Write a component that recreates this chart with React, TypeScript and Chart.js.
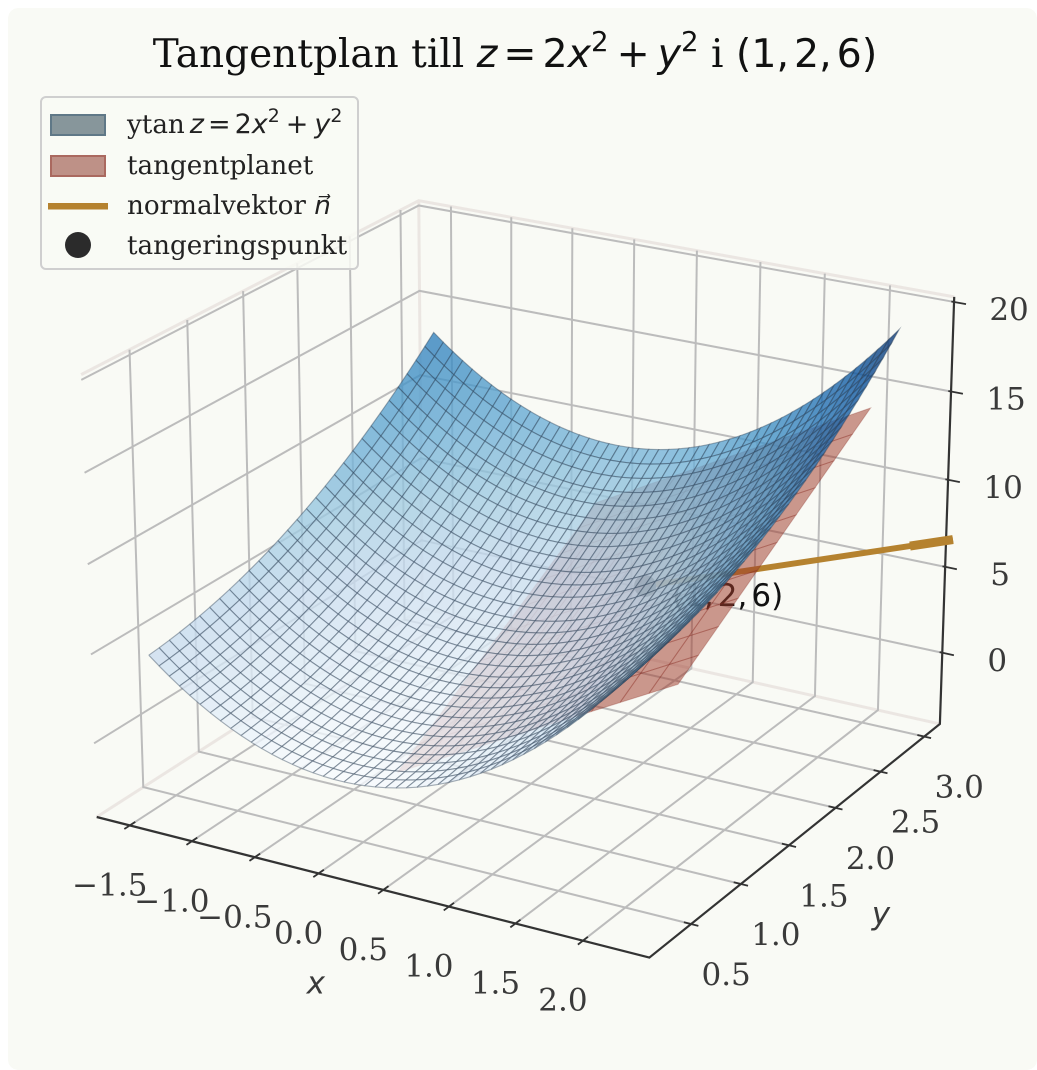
import React, { useEffect, useRef } from "react";
import { Chart, registerables } from "chart.js";

Chart.register(...registerables);

// Surface grid: x and y samples, and the two parts of z read per column / per row
const surfaceX = [-1.5, -1.4196, -1.3391, -1.2587, -1.1783, -1.0978, -1.0174, -0.937, -0.8565, -0.7761, -0.6957, -0.6152, -0.5348, -0.4543, -0.3739, -0.2935, -0.213, -0.1326, -0.0522, 0.0283, 0.1087, 0.1891, 0.2696, 0.35, 0.4304, 0.5109, 0.5913, 0.6717, 0.7522, 0.8326, 0.913, 0.9935, 1.0739, 1.1543, 1.2348, 1.3152, 1.3957, 1.4761, 1.5565, 1.637, 1.7174, 1.7978, 1.8783, 1.9587, 2.0391, 2.1196, 2.2];
const surfaceY = [0.3, 0.39, 0.48, 0.57, 0.66, 0.75, 0.84, 0.93, 1.02, 1.11, 1.2, 1.29, 1.38, 1.47, 1.56, 1.65, 1.74, 1.83, 1.92, 2.01, 2.1, 2.19, 2.28, 2.37, 2.46, 2.55, 2.64, 2.73, 2.82, 2.91, 3.0];
const surfaceZx = [4.5, 4.03, 3.587, 3.169, 2.777, 2.411, 2.07, 1.756, 1.467, 1.205, 0.968, 0.757, 0.572, 0.413, 0.28, 0.172, 0.091, 0.035, 0.005, 0.002, 0.024, 0.072, 0.145, 0.245, 0.371, 0.522, 0.699, 0.902, 1.132, 1.386, 1.667, 1.974, 2.307, 2.665, 3.049, 3.459, 3.896, 4.358, 4.845, 5.36, 5.899, 6.464, 7.056, 7.673, 8.316, 8.985, 9.68];
const surfaceZy = [0.09, 0.152, 0.23, 0.325, 0.436, 0.563, 0.706, 0.865, 1.04, 1.232, 1.44, 1.664, 1.904, 2.161, 2.434, 2.723, 3.028, 3.349, 3.686, 4.04, 4.41, 4.796, 5.198, 5.617, 6.052, 6.503, 6.97, 7.453, 7.952, 8.468, 9.0];

// Tangent plane grid
const planeX = [-0.15, 0.065, 0.28, 0.495, 0.71, 0.925, 1.14, 1.355, 1.57, 1.785, 2.0];
const planeY = [1.0, 1.2, 1.4, 1.6, 1.8, 2.0, 2.2, 2.4, 2.6, 2.8, 3.0];
const planeZx = [-0.6, 0.26, 1.12, 1.98, 2.84, 3.7, 4.56, 5.42, 6.28, 7.14, 8.0];
const planeZy = [-2.0, -1.2, -0.4, 0.4, 1.2, 2.0, 2.8, 3.6, 4.4, 5.2, 6.0];

// Normal vector and point of tangency
const tangentPoint = [1, 2, 6];
const normalTip = [2.4, 3.4, 5.65];
const normalHeadStart = [2.2, 3.2, 5.7];

// Axis ticks
const xTicks = [-1.5, -1.0, -0.5, 0.0, 0.5, 1.0, 1.5, 2.0];
const yTicks = [0.5, 1.0, 1.5, 2.0, 2.5, 3.0];
const zTicks = [0, 5, 10, 15, 20];
const xTickLabels = ["\u22121.5", "\u22121.0", "\u22120.5", "0.0", "0.5", "1.0", "1.5", "2.0"];
const yTickLabels = ["0.5", "1.0", "1.5", "2.0", "2.5", "3.0"];
const zTickLabels = ["0", "5", "10", "15", "20"];

// View limits of the 3D axes
const xLim = [-1.6845, 2.4005];
const yLim = [0.1545, 3.1215];
const zLim = [-3.71, 19.79];
const ELEV = 22;
const AZIM = -60;
const VIEW_MIN = -0.095;
const VIEW_MAX = 0.09;

// Blues colormap stops
const bluesStops = [
  [247, 251, 255], [222, 235, 247], [198, 219, 239], [158, 202, 225], [107, 174, 214],
  [66, 146, 198], [33, 113, 181], [8, 81, 156], [8, 48, 107],
];

const BG = "#f9faf5";
const SERIF = '"DejaVu Serif", serif';
const SANS = '"DejaVu Sans", sans-serif';

const el = (ELEV * Math.PI) / 180;
const az = (AZIM * Math.PI) / 180;
const boxF = (1.8294640721620434 * (25 / 24)) / Math.hypot(4, 4, 3);
const box = [4 * boxF, 4 * boxF, 3 * boxF];
const n = [Math.cos(el) * Math.cos(az), Math.cos(el) * Math.sin(az), Math.sin(el)];
const uLen = Math.hypot(n[1], n[0]);
const u = [-n[1] / uLen, n[0] / uLen, 0];
const v = [n[1] * u[2] - n[2] * u[1], n[2] * u[0] - n[0] * u[2], n[0] * u[1] - n[1] * u[0]];
const DIST = 10;

function norm(p: number[]) {
  return [
    ((p[0] - (xLim[0] + xLim[1]) / 2) / (xLim[1] - xLim[0])) * box[0],
    ((p[1] - (yLim[0] + yLim[1]) / 2) / (yLim[1] - yLim[0])) * box[1],
    ((p[2] - (zLim[0] + zLim[1]) / 2) / (zLim[1] - zLim[0])) * box[2],
  ];
}
function dot(a: number[], b: number[]) {
  return a[0] * b[0] + a[1] * b[1] + a[2] * b[2];
}
function depth(p: number[]) {
  return DIST - dot(norm(p), n);
}
function project(p: number[]) {
  const q = norm(p);
  const d = DIST - dot(q, n);
  return { x: dot(q, u) / d, y: dot(q, v) / d };
}

const ext = (lim: number[]) => {
  const m = (lim[1] - lim[0]) / 48;
  return [lim[0] - m, lim[1] + m];
};
const xP = ext(xLim);
const yP = ext(yLim);
const zP = ext(zLim);

function blues(t: number) {
  const c = Math.max(0, Math.min(1, t)) * (bluesStops.length - 1);
  const i = Math.min(bluesStops.length - 2, Math.floor(c));
  const f = c - i;
  return bluesStops[i].map((a, k) => Math.round(a + (bluesStops[i + 1][k] - a) * f));
}

function lineSet(pts: number[][], color: string, width: number, extra: object = {}) {
  return {
    type: "scatter",
    data: pts.map(project),
    showLine: true,
    borderColor: color,
    borderWidth: width,
    pointRadius: 0,
    fill: false,
    tension: 0,
    clip: false,
    ...extra,
  };
}

function polySet(pts: number[][], face: string, edge: string, width: number) {
  return {
    type: "scatter",
    data: [...pts, pts[0]].map(project),
    showLine: true,
    backgroundColor: face,
    borderColor: edge,
    borderWidth: width,
    pointRadius: 0,
    fill: "shape",
    tension: 0,
    clip: false,
  };
}

function buildDatasets() {
  const sets: any[] = [];
  const GRID = "#bcbcbc";
  const PANE = "#ebe6e2";
  const AXIS = "#333333";

  const B = [xP[0], yP[0], zP[0]];
  const A = [xP[1], yP[0], zP[0]];
  const C = [xP[1], yP[1], zP[0]];
  const D = [xP[1], yP[1], zP[1]];
  const E = [xP[0], yP[1], zP[1]];
  const F = [xP[0], yP[0], zP[1]];
  const G = [xP[0], yP[1], zP[0]];
  sets.push(lineSet([F, E, D], PANE, 3));
  sets.push(lineSet([E, G], PANE, 3));
  sets.push(lineSet([B, G, C], PANE, 3));

  for (const x of xTicks) sets.push(lineSet([[x, yP[0], zP[0]], [x, yP[1], zP[0]], [x, yP[1], zP[1]]], GRID, 2));
  for (const y of yTicks) sets.push(lineSet([[xP[1], y, zP[0]], [xP[0], y, zP[0]], [xP[0], y, zP[1]]], GRID, 2));
  for (const z of zTicks) sets.push(lineSet([[xP[0], yP[0], z], [xP[0], yP[1], z], [xP[1], yP[1], z]], GRID, 2));

  sets.push(lineSet([B, A, C, D], AXIS, 2.2));
  const rx = xLim[1] - xLim[0];
  const ry = yLim[1] - yLim[0];
  for (const x of xTicks) sets.push(lineSet([[x, yP[0] - 0.016 * ry, zP[0]], [x, yP[0] + 0.016 * ry, zP[0]]], AXIS, 1.8));
  for (const y of yTicks) sets.push(lineSet([[xP[1] - 0.013 * rx, y, zP[0]], [xP[1] + 0.013 * rx, y, zP[0]]], AXIS, 1.8));
  for (const z of zTicks) sets.push(lineSet([[xP[1] - 0.005 * rx, yP[1], z], [xP[1] + 0.022 * rx, yP[1], z]], AXIS, 1.8));

  sets.push(lineSet([tangentPoint, normalTip], "#b5822f", 6, { borderCapStyle: "butt" }));
  sets.push(lineSet([normalHeadStart, normalTip], "#b5822f", 9, { borderCapStyle: "butt" }));
  sets.push({
    type: "scatter",
    data: [project(tangentPoint)],
    pointRadius: 11,
    pointBackgroundColor: "#2b2b2b",
    pointBorderWidth: 0,
    showLine: false,
    clip: false,
    labelAfter: true,
  });

  for (let j = 0; j < planeY.length - 1; j++) {
    for (let i = 0; i < planeX.length - 1; i++) {
      const p = (a: number, b: number) => [planeX[a], planeY[b], planeZx[a] + planeZy[b]];
      sets.push(polySet([p(i, j), p(i + 1, j), p(i + 1, j + 1), p(i, j + 1)], "rgba(160,59,45,0.52)", "rgba(135,45,35,0.3)", 1));
    }
  }

  const zMin = Math.min(...surfaceZx) + Math.min(...surfaceZy);
  const zMax = Math.max(...surfaceZx) + Math.max(...surfaceZy);
  const cells: { d: number; pts: number[][]; c: number[] }[] = [];
  for (let j = 0; j < surfaceY.length - 1; j++) {
    for (let i = 0; i < surfaceX.length - 1; i++) {
      const p = (a: number, b: number) => [surfaceX[a], surfaceY[b], surfaceZx[a] + surfaceZy[b]];
      const pts = [p(i, j), p(i + 1, j), p(i + 1, j + 1), p(i, j + 1)];
      const avg = pts.reduce((s, q) => s + q[2], 0) / 4;
      const d = pts.reduce((s, q) => s + depth(q), 0) / 4;
      cells.push({ d, pts, c: blues((avg - zMin) / (zMax - zMin)) });
    }
  }
  cells.sort((a, b) => b.d - a.d);
  for (const cell of cells) {
    sets.push(polySet(cell.pts, `rgba(${cell.c[0]},${cell.c[1]},${cell.c[2]},0.78)`, "rgba(45,65,85,0.42)", 1.15));
  }

  sets.forEach((s, k) => (s.order = sets.length - k));
  return sets;
}

type Run = { t: string; font: string; size: number; italic?: boolean; dy?: number; gap?: number };

function drawRuns(ctx: CanvasRenderingContext2D, runs: Run[], x: number, y: number, color: string, center = false) {
  const fontOf = (r: Run) => `${r.italic ? "italic " : ""}${r.size}px ${r.font}`;
  let total = 0;
  for (const r of runs) {
    ctx.font = fontOf(r);
    total += ctx.measureText(r.t).width + (r.gap || 0);
  }
  let cx = center ? x - total / 2 : x;
  ctx.fillStyle = color;
  ctx.textAlign = "left";
  ctx.textBaseline = "alphabetic";
  for (const r of runs) {
    ctx.font = fontOf(r);
    ctx.fillText(r.t, cx, y + (r.dy || 0));
    cx += ctx.measureText(r.t).width + (r.gap || 0);
  }
}

const OFFSET = 8;

const textPlugin = {
  id: "textPlugin",
  afterDatasetDraw(chart: any, args: any) {
    if (!chart.data.datasets[args.index].labelAfter) return;
    const { ctx, scales } = chart;
    const p = project(tangentPoint);
    ctx.save();
    drawRuns(
      ctx,
      [
        { t: "(1,", font: SANS, size: 31, gap: 4 },
        { t: "2,", font: SANS, size: 31, gap: 4 },
        { t: "6)", font: SANS, size: 31 },
      ],
      scales.x.getPixelForValue(p.x) + 27,
      scales.y.getPixelForValue(p.y) + 20,
      "#111"
    );
    ctx.restore();
  },
  afterDraw(chart: any) {
    const { ctx, scales } = chart;
    const px = (p: number[]) => {
      const q = project(p);
      return { x: scales.x.getPixelForValue(q.x), y: scales.y.getPixelForValue(q.y) };
    };
    ctx.save();
    ctx.fillStyle = "#3a3a3a";
    ctx.font = `31px ${SERIF}`;
    ctx.textAlign = "center";
    ctx.textBaseline = "middle";
    xTicks.forEach((x, i) => {
      const q = px([x, yP[0], zP[0]]);
      ctx.fillText(xTickLabels[i], q.x - 20, q.y + 62);
    });
    yTicks.forEach((y, i) => {
      const q = px([xP[1], y, zP[0]]);
      ctx.fillText(yTickLabels[i], q.x + 35, q.y + 53);
    });
    zTicks.forEach((z, i) => {
      const q = px([xP[1], yP[1], z]);
      ctx.fillText(zTickLabels[i], q.x + 55, q.y + 10);
    });
    ctx.font = `italic 31px ${SANS}`;
    const xm = px([(xP[0] + xP[1]) / 2, yP[0], zP[0]]);
    ctx.fillText("x", xm.x - 49, xm.y + 100);
    const ym = px([xP[1], (yP[0] + yP[1]) / 2, zP[0]]);
    ctx.fillText("y", ym.x + 79, ym.y + 81);

    const T = 39;
    const M = 39.5;
    drawRuns(
      ctx,
      [
        { t: "Tangentplan till ", font: SERIF, size: T },
        { t: "z", font: SANS, size: M, italic: true, gap: 6 },
        { t: "=", font: SANS, size: M, gap: 6 },
        { t: "2", font: SANS, size: M },
        { t: "x", font: SANS, size: M, italic: true },
        { t: "2", font: SANS, size: M * 0.7, dy: -16, gap: 8 },
        { t: "+", font: SANS, size: M, gap: 8 },
        { t: "y", font: SANS, size: M, italic: true },
        { t: "2", font: SANS, size: M * 0.7, dy: -16 },
        { t: " i ", font: SERIF, size: T },
        { t: "(1,", font: SANS, size: M, gap: 5 },
        { t: "2,", font: SANS, size: M, gap: 5 },
        { t: "6)", font: SANS, size: M },
      ],
      515 - OFFSET,
      67 - OFFSET,
      "#111",
      true
    );

    const LX = 41 - OFFSET;
    const LY = 97 - OFFSET;
    ctx.beginPath();
    ctx.roundRect(LX, LY, 317, 172, 5);
    ctx.fillStyle = "rgba(249,250,245,0.85)";
    ctx.fill();
    ctx.lineWidth = 2;
    ctx.strokeStyle = "#cfcfcf";
    ctx.stroke();

    ctx.fillStyle = "#87969b";
    ctx.strokeStyle = "#5f7887";
    ctx.fillRect(51 - OFFSET, 115 - OFFSET, 54, 20);
    ctx.strokeRect(51 - OFFSET, 115 - OFFSET, 54, 20);
    ctx.fillStyle = "#be9187";
    ctx.strokeStyle = "#aa695f";
    ctx.fillRect(51 - OFFSET, 156 - OFFSET, 54, 20);
    ctx.strokeRect(51 - OFFSET, 156 - OFFSET, 54, 20);
    ctx.fillStyle = "#b5822f";
    ctx.fillRect(48 - OFFSET, 203 - OFFSET, 60, 6.5);
    ctx.fillStyle = "#2b2b2b";
    ctx.beginPath();
    ctx.arc(78 - OFFSET, 245 - OFFSET, 13, 0, Math.PI * 2);
    ctx.fill();

    const LT = 26.2;
    const LM = 27;
    const tx = 127 - OFFSET;
    drawRuns(
      ctx,
      [
        { t: "ytan", font: SERIF, size: LT, gap: 5 },
        { t: "z", font: SANS, size: LM, italic: true, gap: 4 },
        { t: "=", font: SANS, size: LM, gap: 4 },
        { t: "2", font: SANS, size: LM },
        { t: "x", font: SANS, size: LM, italic: true },
        { t: "2", font: SANS, size: LM * 0.7, dy: -11, gap: 6 },
        { t: "+", font: SANS, size: LM, gap: 6 },
        { t: "y", font: SANS, size: LM, italic: true },
        { t: "2", font: SANS, size: LM * 0.7, dy: -11 },
      ],
      tx,
      133 - OFFSET,
      "#222"
    );
    drawRuns(ctx, [{ t: "tangentplanet", font: SERIF, size: LT }], tx, 174 - OFFSET, "#222");
    drawRuns(
      ctx,
      [
        { t: "normalvektor ", font: SERIF, size: LT },
        { t: "n\u20D7", font: SANS, size: LT, italic: true },
      ],
      tx,
      214 - OFFSET,
      "#222"
    );
    drawRuns(ctx, [{ t: "tangeringspunkt", font: SERIF, size: LT }], tx, 254 - OFFSET, "#222");
    ctx.restore();
  },
};

export default function App() {
  const ref = useRef<HTMLCanvasElement | null>(null);
  useEffect(() => {
    const chart = new Chart(ref.current as HTMLCanvasElement, {
      type: "scatter",
      data: { datasets: buildDatasets() as any },
      options: {
        animation: false,
        responsive: false,
        devicePixelRatio: 2,
        events: [],
        layout: { padding: { left: 38.1, right: 54.4, top: 94.6, bottom: 35.4 } },
        scales: {
          x: { type: "linear", display: false, min: VIEW_MIN, max: VIEW_MAX },
          y: { type: "linear", display: false, min: VIEW_MIN, max: VIEW_MAX },
        },
        plugins: { legend: { display: false }, title: { display: false }, tooltip: { enabled: false } },
      } as any,
      plugins: [textPlugin as any],
    });
    return () => chart.destroy();
  }, []);
  return (
    <div style={{ position: "absolute", left: OFFSET, top: OFFSET, width: 1029, height: 1062 }}>
      <canvas
        ref={ref}
        width={1029}
        height={1062}
        style={{ display: "block", width: 1029, height: 1062, background: BG, borderRadius: 10, filter: "blur(0.45px)" }}
      />
    </div>
  );
}
